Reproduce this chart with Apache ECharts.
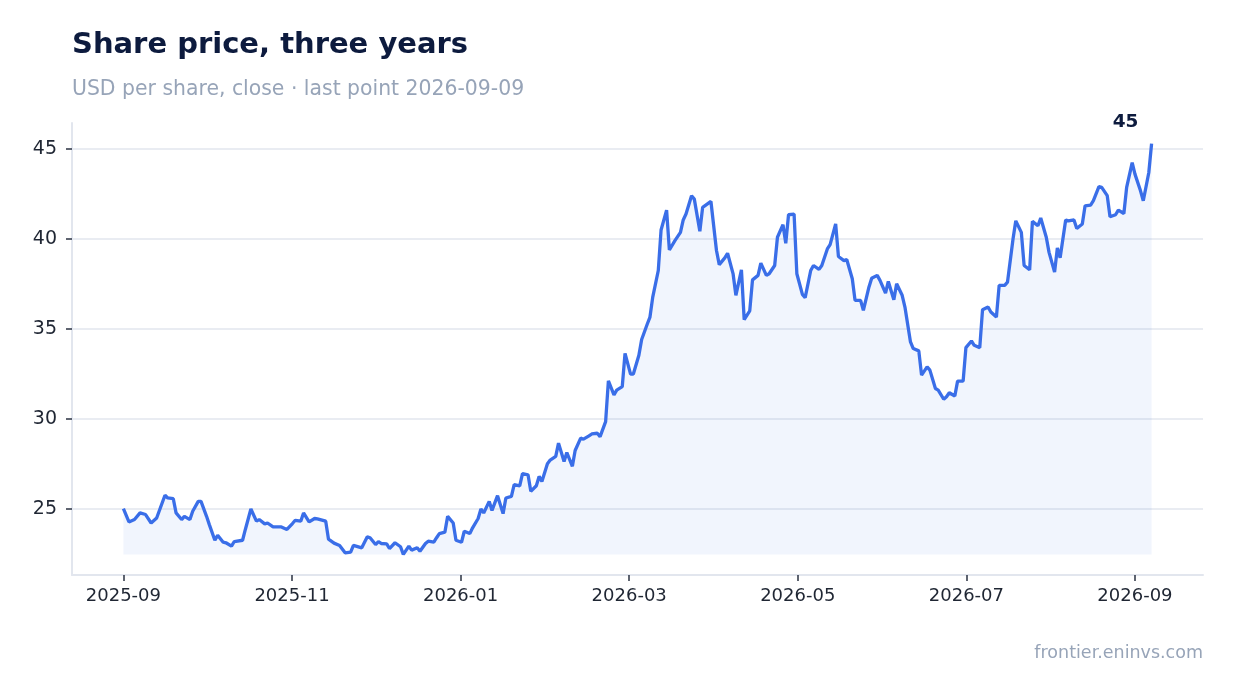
<!DOCTYPE html>
<html>
<head>
<meta charset="utf-8">
<script src="https://cdn.jsdelivr.net/npm/echarts@6/dist/echarts.min.js"></script>
<style>
  html, body { margin: 0; padding: 0; background: #ffffff; }
  #chart { width: 1234px; height: 693px; }
</style>
</head>
<body>
<div id="chart"></div>
<script>
const titleText = 'Share price, three years';
const subtitleText = 'USD per share, close · last point 2026-09-09';
const footerText = 'frontier.eninvs.com';
const startDate = '2025-09-01';
const xTickLabels = ['2025-09', '2025-11', '2026-01', '2026-03', '2026-05', '2026-07', '2026-09'];
// label positions, days after startDate (the source spaces them evenly)
const xTickDays = [0, 60.83, 121.67, 182.5, 243.33, 304.17, 365];
const yTickValues = [25, 30, 35, 40, 45];

// days after startDate
const dayOffsets = [
  0, 2, 4, 6, 8, 10, 12, 15, 16, 18, 19, 21, 22, 24, 25, 27, 28, 30, 31, 33,
  34, 36, 37, 39, 40, 43, 44, 46, 48, 49, 51, 52, 54, 55, 57, 59, 61, 62, 64, 65,
  67, 69, 70, 73, 74, 76, 78, 80, 82, 83, 86, 88, 89, 91, 92, 93, 95, 96, 98, 100,
  101, 103, 104, 106, 107, 109, 110, 112, 113, 114, 116, 117, 119, 120, 122, 123, 125, 126, 128, 129,
  130, 132, 133, 135, 137, 138, 140, 141, 143, 144, 146, 147, 149, 150, 151, 153, 154, 156, 157, 159,
  160, 162, 163, 165, 166, 168, 169, 171, 172, 174, 175, 177, 178, 180, 181, 183, 184, 186, 187, 189,
  190, 191, 193, 194, 196, 197, 199, 201, 202, 203, 205, 206, 208, 209, 211, 212, 214, 215, 217, 218,
  220, 221, 223, 224, 226, 227, 229, 230, 232, 233, 235, 236, 238, 239, 240, 242, 243, 245, 246, 248,
  249, 251, 252, 254, 255, 257, 258, 260, 261, 263, 264, 266, 267, 269, 270, 272, 273, 275, 276, 278,
  279, 281, 282, 284, 285, 287, 288, 290, 291, 293, 294, 296, 297, 298, 300, 301, 303, 304, 306, 307,
  309, 310, 312, 313, 315, 316, 318, 319, 321, 322, 324, 325, 327, 328, 330, 331, 333, 334, 336, 337,
  338, 340, 341, 343, 344, 346, 347, 349, 350, 352, 353, 355, 356, 358, 359, 361, 362, 364, 365, 367,
  368, 370, 371
];

const closePrices = [
  25.00, 24.26, 24.39, 24.76, 24.67, 24.20, 24.48, 25.74, 25.59, 25.55, 24.76, 24.39, 24.57, 24.39, 24.85, 25.40, 25.40, 24.57, 24.11, 23.24,
  23.52, 23.13, 23.10, 22.91, 23.17, 23.24, 23.84, 24.98, 24.30, 24.39, 24.15, 24.20, 23.98, 23.98, 23.98, 23.84, 24.17, 24.35, 24.30, 24.76,
  24.26, 24.45, 24.43, 24.30, 23.30, 23.08, 22.95, 22.54, 22.58, 22.95, 22.82, 23.43, 23.38, 23.00, 23.16, 23.06, 23.04, 22.78, 23.10, 22.88,
  22.45, 22.91, 22.69, 22.82, 22.63, 23.06, 23.19, 23.13, 23.38, 23.61, 23.69, 24.57, 24.20, 23.24, 23.13, 23.74, 23.61, 23.93, 24.45, 24.98,
  24.76, 25.40, 24.90, 25.72, 24.72, 25.59, 25.68, 26.33, 26.27, 26.94, 26.88, 25.96, 26.27, 26.79, 26.51, 27.50, 27.70, 27.90, 28.64, 27.62,
  28.12, 27.35, 28.23, 28.92, 28.86, 29.04, 29.15, 29.19, 29.00, 29.84, 32.11, 31.32, 31.59, 31.78, 33.63, 32.48, 32.48, 33.53, 34.40, 35.25,
  35.65, 36.76, 38.24, 40.49, 41.60, 39.38, 39.90, 40.36, 41.05, 41.38, 42.40, 42.21, 40.42, 41.75, 41.97, 42.08, 39.35, 38.57, 38.94, 39.20,
  38.05, 36.86, 38.28, 35.51, 35.99, 37.72, 37.97, 38.65, 37.97, 38.06, 38.52, 40.09, 40.79, 39.75, 41.34, 41.38, 38.06, 36.91, 36.73, 38.24,
  38.52, 38.30, 38.52, 39.44, 39.68, 40.83, 39.02, 38.79, 38.85, 37.78, 36.58, 36.58, 36.02, 37.31, 37.81, 37.97, 37.69, 36.98, 37.63, 36.61,
  37.50, 36.86, 36.21, 34.27, 33.90, 33.77, 32.42, 32.88, 32.70, 31.68, 31.59, 31.08, 31.22, 31.44, 31.26, 32.09, 32.09, 33.95, 34.32, 34.08,
  33.95, 36.06, 36.21, 35.93, 35.65, 37.41, 37.41, 37.59, 39.99, 41.00, 40.36, 38.52, 38.28, 40.97, 40.73, 41.16, 40.09, 39.25, 38.15, 39.50,
  38.95, 41.05, 41.00, 41.05, 40.58, 40.83, 41.84, 41.88, 42.12, 42.90, 42.86, 42.40, 41.23, 41.34, 41.60, 41.41, 42.86, 44.24, 43.60, 42.67,
  42.12, 43.69, 45.30
];

const DAY = 86400000;
const t0 = Date.parse(startDate + 'T00:00:00Z');
const seriesData = dayOffsets.map((d, i) => [t0 + d * DAY, closePrices[i]]);
const lastPoint = seriesData[seriesData.length - 1];
const xTickValues = xTickDays.map(d => t0 + d * DAY);
const areaBase = Math.min(...closePrices);

function fmtTick(v) {
  let best = 0;
  for (let i = 1; i < xTickValues.length; i++) {
    if (Math.abs(xTickValues[i] - v) < Math.abs(xTickValues[best] - v)) best = i;
  }
  return xTickLabels[best];
}

const chart = echarts.init(document.getElementById('chart'), null, { renderer: 'canvas' });
chart.setOption({
  backgroundColor: '#ffffff',
  animation: false,
  textStyle: { fontFamily: 'DejaVu Sans' },
  title: [
    { text: titleText, left: 67, top: 26,
      textStyle: { fontSize: 29, fontWeight: 'bold', color: '#0d1b3e', fontFamily: 'DejaVu Sans' } },
    { text: subtitleText, left: 67, top: 75,
      textStyle: { fontSize: 20.4, fontWeight: 'normal', color: '#97a4b8', fontFamily: 'DejaVu Sans' } },
    { text: footerText, right: 26, top: 639,
      textStyle: { fontSize: 17.5, fontWeight: 'normal', color: '#97a4b8', fontFamily: 'DejaVu Sans' } }
  ],
  grid: { left: 72, right: 31, top: 123, bottom: 118, containLabel: false },
  xAxis: {
    type: 'value',
    scale: true,
    min: v => v.min - (v.max - v.min) * 0.05,
    max: v => v.max + (v.max - v.min) * 0.05,
    axisLine: { show: true, lineStyle: { color: '#e2e6ee', width: 2 } },
    axisTick: { show: true, length: 6, customValues: xTickValues, lineStyle: { color: '#2a3242', width: 1.5 } },
    axisLabel: { customValues: xTickValues, formatter: v => fmtTick(v), fontSize: 18, color: '#1f2633', margin: 12, fontFamily: 'DejaVu Sans' },
    splitLine: { show: false },
    minorTick: { show: false }
  },
  yAxis: {
    type: 'value',
    scale: true,
    min: v => v.min - (v.max - v.min) * 0.05,
    max: v => v.max + (v.max - v.min) * 0.05,
    axisLine: { show: true, lineStyle: { color: '#e2e6ee', width: 2 } },
    axisTick: { show: true, length: 6, customValues: yTickValues, lineStyle: { color: '#2a3242', width: 1.5 } },
    axisLabel: { customValues: yTickValues, fontSize: 19, color: '#1f2633', margin: 15, fontFamily: 'DejaVu Sans' },
    splitLine: { show: true, lineStyle: { color: '#e2e6ee', width: 1.5 } }
  },
  series: [{
    type: 'line',
    data: seriesData,
    showSymbol: false,
    symbol: 'none',
    lineStyle: { color: '#3a6ee8', width: 3.3 },
    itemStyle: { color: '#3a6ee8' },
    areaStyle: { color: 'rgba(58,110,232,0.1)', origin: areaBase },
    markPoint: {
      symbol: 'circle',
      symbolSize: 1,
      itemStyle: { color: 'rgba(0,0,0,0)' },
      data: [{ coord: lastPoint, value: lastPoint[1] }],
      label: {
        show: true, position: 'top', distance: 5, offset: [-26, -6],
        formatter: p => String(Math.round(p.value)),
        fontSize: 18.5, fontWeight: 'bold', color: '#0d1b3e', fontFamily: 'DejaVu Sans'
      }
    }
  }]
});
</script>
</body>
</html>
